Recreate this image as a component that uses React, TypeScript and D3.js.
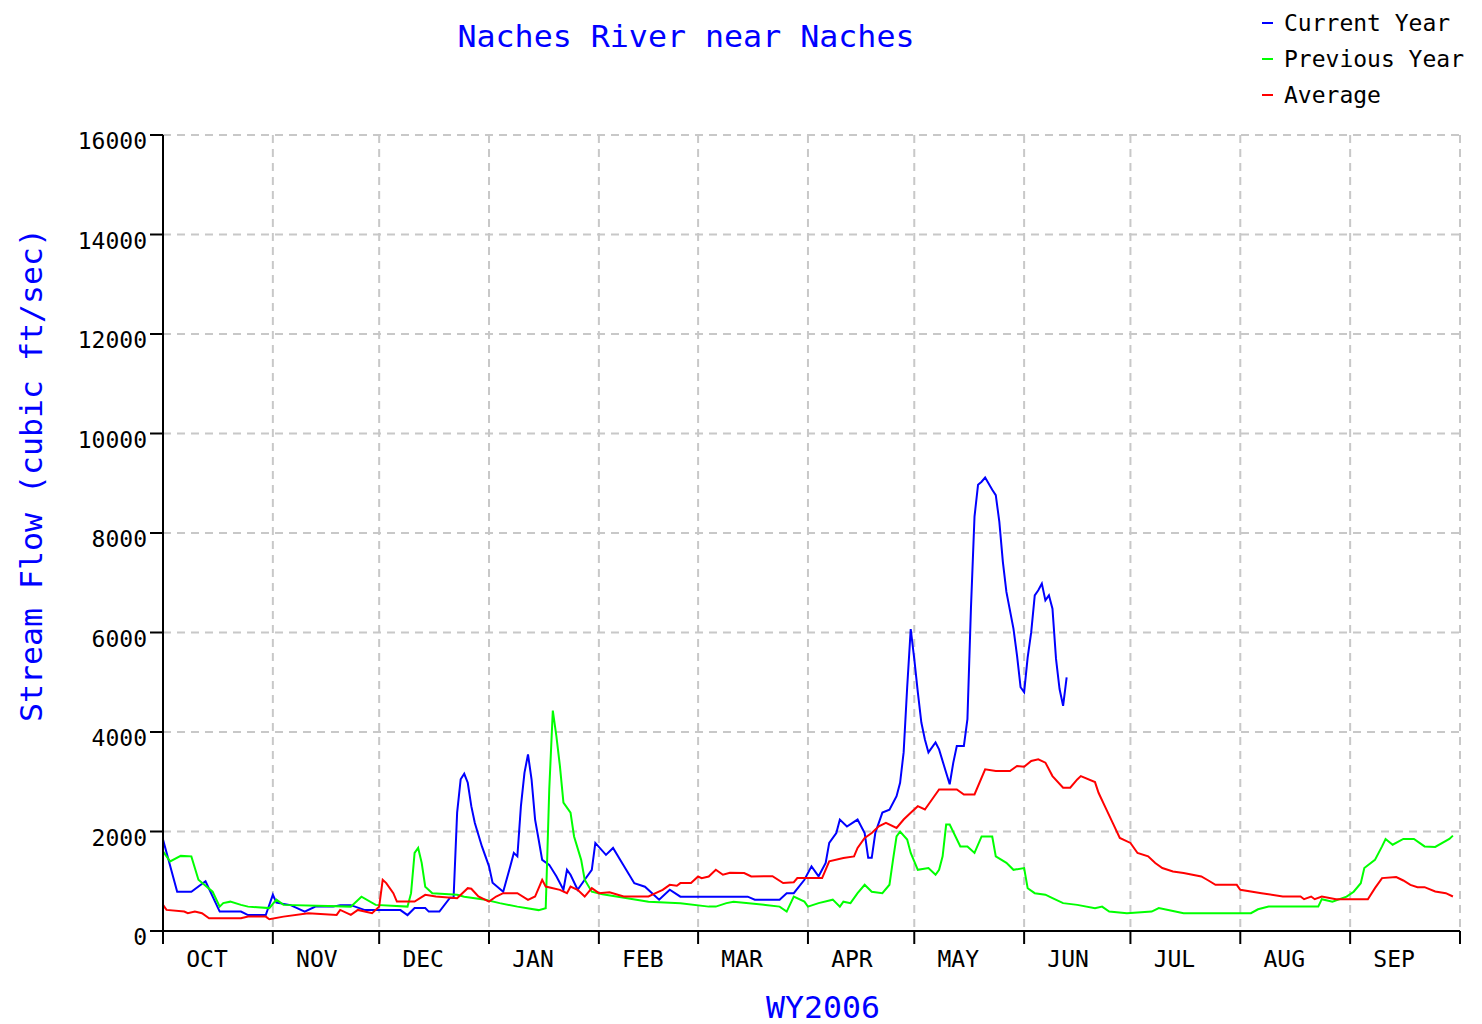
import React from "react";
import * as d3 from "d3";

// ---------- DATA ----------
const monthLabels = ["OCT", "NOV", "DEC", "JAN", "FEB", "MAR", "APR", "MAY", "JUN", "JUL", "AUG", "SEP"];
const monthStartDays = [0, 31, 61, 92, 123, 151, 182, 212, 243, 273, 304, 335, 366];
const yTicks = [0, 2000, 4000, 6000, 8000, 10000, 12000, 14000, 16000];
const seriesNames = ["Current Year", "Previous Year", "Average"];
const seriesColors = ["#0000ff", "#00ff00", "#ff0000"];

// [day of water year, flow cfs]
const currentYear: [number, number][] = [
  [0, 1840], [4, 790], [8, 790], [12, 1000], [16, 390], [22, 390], [24, 320], [29, 320], [31, 730],
  [32, 570], [36, 520], [40, 390], [43, 490], [48, 490], [50, 520], [53, 520], [57, 420], [67, 420],
  [69, 320], [71, 460], [74, 460], [75, 390], [78, 390], [81, 670], [82, 670], [83, 2380], [84, 3050],
  [85, 3160], [86, 2980], [87, 2510], [88, 2170], [90, 1700], [92, 1300], [93, 970], [96, 790],
  [98, 1300], [99, 1570], [100, 1500], [101, 2510], [102, 3180], [103, 3550], [104, 3050], [105, 2240],
  [106, 1840], [107, 1430], [109, 1330], [111, 1100], [113, 830], [114, 1230], [115, 1130], [117, 830],
  [119, 1030], [121, 1230], [122, 1770], [125, 1530], [127, 1670], [129, 1430], [133, 960], [136, 890],
  [140, 630], [143, 830], [146, 690], [165, 690], [167, 630], [174, 630], [176, 760], [178, 760],
  [181, 1030], [183, 1300], [185, 1100], [187, 1370], [188, 1770], [190, 1970], [191, 2240], [193, 2100],
  [196, 2240], [198, 1970], [199, 1470], [200, 1470], [201, 1970], [203, 2380], [205, 2440], [207, 2710],
  [208, 2980], [209, 3590], [210, 4900], [211, 6070], [212, 5470], [213, 4800], [214, 4190], [215, 3850],
  [216, 3590], [218, 3790], [219, 3650], [221, 3180], [222, 2950], [223, 3380], [224, 3720], [226, 3720],
  [227, 4260], [228, 6500], [229, 8330], [230, 8970], [231, 9030], [232, 9115], [234, 8870], [235, 8760],
  [236, 8230], [237, 7420], [238, 6815], [240, 6074], [241, 5535], [242, 4900], [243, 4800], [244, 5500],
  [245, 6007], [246, 6747], [247, 6848], [248, 6983], [249, 6646], [250, 6747], [251, 6478], [252, 5469],
  [253, 4864], [254, 4527], [255, 5100],
];

const previousYear: [number, number][] = [
  [0, 1600], [2, 1400], [5, 1510], [8, 1500], [10, 1030], [14, 790], [16, 490], [17, 560], [19, 590],
  [22, 525], [24, 490], [30, 460], [32, 630], [34, 525], [53, 490], [56, 690], [60, 525], [69, 490],
  [70, 760], [71, 1570], [72, 1670], [73, 1370], [74, 890], [76, 760], [83, 730], [85, 690], [91, 630],
  [95, 560], [100, 490], [106, 420], [108, 460], [109, 2850], [110, 4430], [111, 3920], [112, 3320],
  [113, 2580], [115, 2380], [116, 1900], [118, 1430], [119, 1030], [121, 790], [124, 740], [131, 660],
  [137, 590], [146, 560], [154, 490], [156, 490], [159, 560], [161, 590], [170, 525], [174, 490],
  [176, 390], [178, 690], [181, 590], [182, 490], [185, 560], [189, 630], [191, 490], [192, 590],
  [194, 560], [196, 760], [198, 930], [200, 790], [203, 760], [205, 930], [206, 1430], [207, 1900],
  [208, 2000], [210, 1840], [211, 1570], [213, 1230], [216, 1265], [218, 1130], [219, 1230], [220, 1500],
  [221, 2140], [222, 2140], [225, 1700], [227, 1700], [229, 1570], [231, 1900], [234, 1900], [235, 1500],
  [238, 1370], [240, 1230], [243, 1265], [244, 860], [246, 760], [249, 730], [251, 660], [254, 560],
  [258, 525], [263, 460], [265, 490], [267, 390], [272, 357], [279, 390], [281, 460], [285, 400],
  [288, 357], [307, 357], [309, 437], [312, 490], [326, 490], [327, 640], [330, 590], [334, 690],
  [336, 790], [338, 960], [339, 1265], [342, 1430], [344, 1700], [345, 1850], [347, 1735], [350, 1850],
  [353, 1850], [356, 1700], [359, 1690], [363, 1850], [364, 1917],
];

const averageFlow: [number, number][] = [
  [0, 525], [1, 424], [6, 390], [7, 357], [9, 390], [11, 357], [13, 256], [22, 256], [24, 289], [29, 289],
  [30, 236], [34, 289], [41, 357], [49, 323], [50, 424], [53, 323], [55, 424], [59, 357], [61, 490],
  [62, 1029], [63, 963], [65, 760], [66, 591], [71, 591], [74, 726], [77, 693], [83, 660], [86, 861],
  [87, 850], [89, 693], [92, 591], [94, 693], [96, 760], [100, 760], [103, 626], [105, 693], [107, 1029],
  [108, 894], [112, 827], [114, 760], [115, 894], [117, 827], [119, 693], [121, 861], [123, 760],
  [126, 777], [130, 693], [137, 693], [139, 760], [141, 827], [143, 928], [145, 910], [146, 963],
  [149, 963], [151, 1096], [152, 1063], [154, 1096], [156, 1231], [158, 1130], [160, 1170], [164, 1164],
  [166, 1096], [172, 1100], [175, 963], [178, 980], [179, 1063], [186, 1063], [188, 1399], [192, 1467],
  [195, 1500], [196, 1669], [198, 1870], [200, 1971], [202, 2105], [204, 2173], [207, 2072], [209, 2240],
  [211, 2375], [213, 2509], [215, 2442], [217, 2643], [219, 2845], [224, 2845], [226, 2744], [229, 2744],
  [232, 3249], [235, 3215], [239, 3215], [241, 3316], [243, 3300], [245, 3417], [247, 3451], [249, 3384],
  [251, 3114], [254, 2879], [256, 2879], [258, 3047], [259, 3114], [263, 2993], [264, 2778], [266, 2476],
  [268, 2173], [270, 1870], [273, 1770], [275, 1568], [278, 1500], [280, 1366], [282, 1265], [285, 1197],
  [288, 1164], [293, 1096], [295, 1015], [297, 928], [303, 928], [304, 827], [310, 760], [316, 693],
  [321, 693], [322, 639], [324, 693], [325, 639], [327, 693], [331, 639], [340, 639], [342, 861],
  [344, 1063], [348, 1083], [350, 1015], [352, 928], [354, 881], [356, 881], [359, 793], [362, 760],
  [364, 693],
];

const titleText = "Naches River near Naches";
const yAxisTitle = "Stream Flow (cubic ft/sec)";
const xAxisTitle = "WY2006";

// ---------- LAYOUT ----------
const W = 1482;
const H = 1024;
const plotLeft = 163;
const plotRight = 1460;
const plotTop = 135;
const plotBottom = 931;
const FONT = "'DejaVu Sans Mono', 'Liberation Mono', monospace";

export default function App() {
  const x = d3.scaleLinear().domain([0, 366]).range([plotLeft, plotRight]);
  const y = d3.scaleLinear().domain([0, 16000]).range([plotBottom, plotTop]);
  const line = d3
    .line<[number, number]>()
    .x((d) => x(d[0]))
    .y((d) => y(d[1]));

  const series = [currentYear, previousYear, averageFlow];
  const grid = "#c8c8c8";

  return (
    <svg
      width={W}
      height={H}
      style={{ position: "absolute", left: 0, top: 0, background: "#fff" }}
    >
      <rect x={0} y={0} width={W} height={H} fill="#fff" />
      {/* horizontal grid */}
      {yTicks
        .filter((t) => t > 0)
        .map((t) => (
          <line
            key={"hg" + t}
            x1={plotLeft}
            x2={plotRight}
            y1={y(t)}
            y2={y(t)}
            stroke={grid}
            strokeWidth={2}
            strokeDasharray="8,6"
          />
        ))}
      {/* vertical grid */}
      {monthStartDays
        .filter((d) => d > 0)
        .map((d) => (
          <line
            key={"vg" + d}
            x1={x(d)}
            x2={x(d)}
            y1={plotTop}
            y2={plotBottom}
            stroke={grid}
            strokeWidth={2}
            strokeDasharray="8,6"
          />
        ))}

      {/* series */}
      {series.map((s, i) => (
        <path
          key={"s" + i}
          d={line(s) || ""}
          fill="none"
          stroke={seriesColors[i]}
          strokeWidth={2}
          strokeLinejoin="miter"
        />
      ))}

      {/* axes */}
      <line x1={plotLeft} x2={plotLeft} y1={plotTop} y2={plotBottom} stroke="#000" strokeWidth={2} />
      <line x1={plotLeft} x2={plotRight} y1={plotBottom} y2={plotBottom} stroke="#000" strokeWidth={2} />
      {yTicks.map((t) => (
        <g key={"yt" + t}>
          <line x1={150} x2={plotLeft} y1={y(t)} y2={y(t)} stroke="#000" strokeWidth={2} />
          <text
            x={147}
            y={y(t) + 14}
            textAnchor="end"
            fontFamily={FONT}
            fontSize={23}
            fill="#000"
          >
            {t}
          </text>
        </g>
      ))}
      {monthStartDays.map((d) => (
        <line
          key={"xt" + d}
          x1={x(d)}
          x2={x(d)}
          y1={plotBottom}
          y2={944}
          stroke="#000"
          strokeWidth={2}
        />
      ))}
      {monthLabels.map((m, i) => (
        <text
          key={"ml" + m}
          x={x(monthStartDays[i]) + 44}
          y={967}
          textAnchor="middle"
          fontFamily={FONT}
          fontSize={23}
          fill="#000"
        >
          {m}
        </text>
      ))}

      {/* titles */}
      <text
        x={686}
        y={47}
        textAnchor="middle"
        fontFamily={FONT}
        fontSize={31}
        fill="#0000ff"
        textLength={457}
        lengthAdjust="spacingAndGlyphs"
      >
        {titleText}
      </text>
      <text
        transform="translate(42,475) rotate(-90)"
        textAnchor="middle"
        fontFamily={FONT}
        fontSize={31}
        fill="#0000ff"
        textLength={494}
        lengthAdjust="spacingAndGlyphs"
      >
        {yAxisTitle}
      </text>
      <text
        x={823}
        y={1018}
        textAnchor="middle"
        fontFamily={FONT}
        fontSize={31}
        fill="#0000ff"
        textLength={114}
        lengthAdjust="spacingAndGlyphs"
      >
        {xAxisTitle}
      </text>

      {/* legend */}
      {seriesNames.map((n, i) => (
        <g key={"lg" + n}>
          <line
            x1={1262}
            x2={1273}
            y1={23 + i * 36}
            y2={23 + i * 36}
            stroke={seriesColors[i]}
            strokeWidth={2}
          />
          <text x={1284} y={30.5 + i * 36} fontFamily={FONT} fontSize={23} fill="#000">
            {n}
          </text>
        </g>
      ))}
    </svg>
  );
}
